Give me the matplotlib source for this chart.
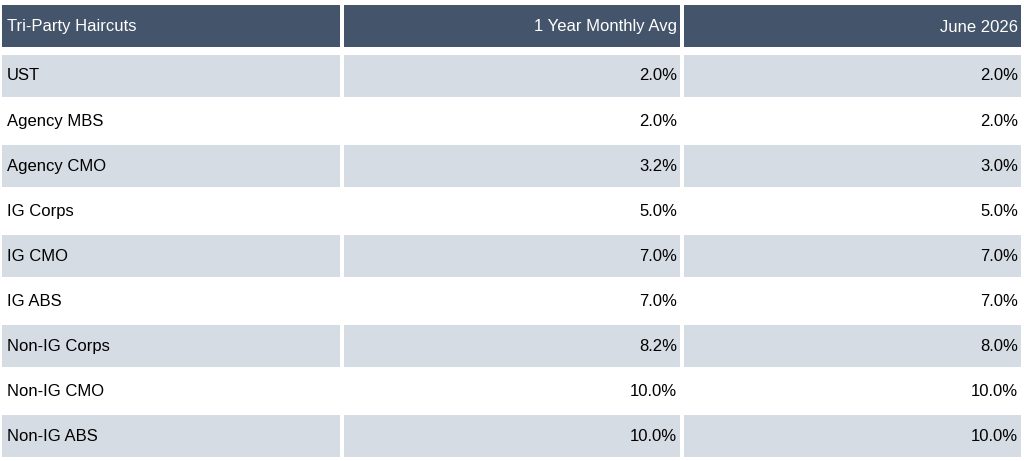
import matplotlib
matplotlib.use("Agg")
import matplotlib.pyplot as plt
from matplotlib.patches import Rectangle

headers = ["Tri-Party Haircuts", "1 Year Monthly Avg", "June 2026"]
categories = ["UST", "Agency MBS", "Agency CMO", "IG Corps", "IG CMO", "IG ABS",
              "Non-IG Corps", "Non-IG CMO", "Non-IG ABS"]
avg_1y = [2.0, 2.0, 3.2, 5.0, 7.0, 7.0, 8.2, 10.0, 10.0]
june_2026 = [2.0, 2.0, 3.0, 5.0, 7.0, 7.0, 8.0, 10.0, 10.0]

plt.rcParams['font.family'] = ['Liberation Sans', 'DejaVu Sans']
fig = plt.figure(figsize=(10.24, 4.61), dpi=100)
ax = fig.add_axes([0, 0, 1, 1])
ax.set_xlim(0, 1024)
ax.set_ylim(461, 0)
ax.axis('off')

cols = [(2, 340), (344, 680), (684, 1021)]
header_color = '#44546A'
band = '#D6DCE4'

# header
for i, (x0, x1) in enumerate(cols):
    ax.add_patch(Rectangle((x0, 5), x1 - x0, 42, color=header_color, lw=0))
    if i == 0:
        ax.text(x0 + 5, 27, headers[i], color='white', fontsize=12, va='center', ha='left')
    else:
        ax.text(x1 - 3, 27, headers[i], color='white', fontsize=12, va='center', ha='right')

top = 55
h = 45
for r, cat in enumerate(categories):
    y0 = top + r * h
    if r % 2 == 0:
        for (x0, x1) in cols:
            ax.add_patch(Rectangle((x0, y0), x1 - x0, h - 3, color=band, lw=0))
    yc = y0 + (h - 3) / 2
    ax.text(cols[0][0] + 5, yc, cat, fontsize=12, va='center', ha='left', color='black')
    ax.text(cols[1][1] - 3, yc, f"{avg_1y[r]:.1f}%", fontsize=12, va='center', ha='right', color='black')
    ax.text(cols[2][1] - 3, yc, f"{june_2026[r]:.1f}%", fontsize=12, va='center', ha='right', color='black')

fig.savefig("out.png", dpi=100)
